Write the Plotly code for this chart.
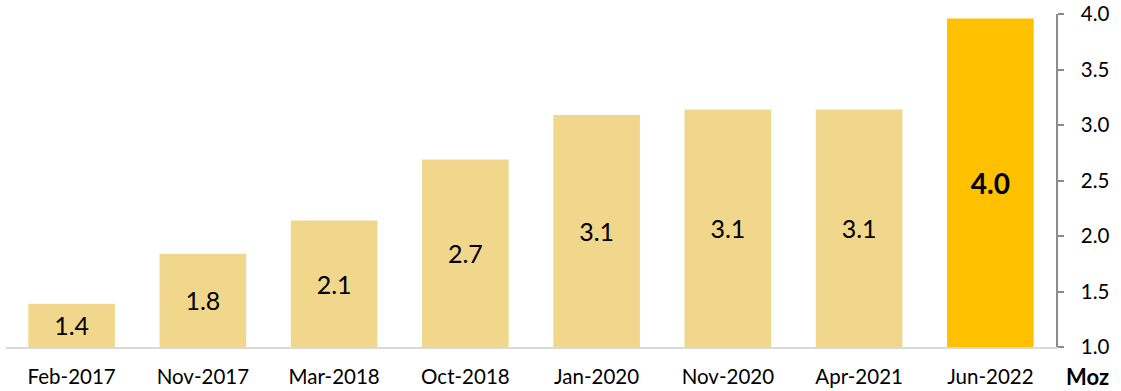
import plotly.graph_objects as go

categories = ["Feb-2017", "Nov-2017", "Mar-2018", "Oct-2018", "Jan-2020", "Nov-2020", "Apr-2021", "Jun-2022"]
values = [1.39, 1.84, 2.14, 2.69, 3.09, 3.14, 3.14, 3.96]
labels = ["1.4", "1.8", "2.1", "2.7", "3.1", "3.1", "3.1", "4.0"]
axis_base = 1.0
y_ticks = [1.0, 1.5, 2.0, 2.5, 3.0, 3.5, 4.0]

colors = ["#F0D78C"] * 7 + ["#FFC000"]
text_html = [l if i < len(labels) - 1 else f"<b>{l}</b>" for i, l in enumerate(labels)]
text_sizes = [25] * 7 + [28]

fig = go.Figure(go.Bar(
    x=categories,
    y=[v - axis_base for v in values],
    base=axis_base,
    marker=dict(color=colors, line=dict(width=0)),
    text=text_html,
    textposition="inside",
    insidetextanchor="middle",
    textangle=0,
    constraintext="none",
    textfont=dict(family="Lato, sans-serif", size=text_sizes, color="#000000"),
    hoverinfo="skip",
))

fig.update_layout(
    width=1121, height=391,
    margin=dict(l=6, r=65, t=14, b=44),
    paper_bgcolor="white", plot_bgcolor="white",
    bargap=0.34,
    showlegend=False,
    font=dict(family="Lato, sans-serif", size=20, color="#000000"),
    xaxis=dict(
        showgrid=False, showline=True, linecolor="#D9D9D9", linewidth=1.5,
        ticks="", tickfont=dict(size=20.5), ticklabelstandoff=11, automargin=False,
    ),
    yaxis=dict(
        side="right", range=[1.0, 4.0], tickvals=y_ticks,
        ticktext=[f"{t:.1f}" for t in y_ticks],
        showgrid=False, zeroline=False, showline=True, linecolor="#8C8C8C", linewidth=1.5,
        ticks="outside", ticklen=6, tickcolor="#8C8C8C", tickwidth=1.5,
        tickfont=dict(size=20.5), ticklabelstandoff=13, automargin=False,
    ),
    annotations=[dict(
        text="<b>Moz</b>", xref="paper", yref="paper", x=1.0, y=0, xanchor="left",
        yanchor="top", xshift=8, yshift=-14, showarrow=False,
        font=dict(family="Lato, sans-serif", size=22, color="#000000"),
    )],
)

fig.write_html("out.html")
